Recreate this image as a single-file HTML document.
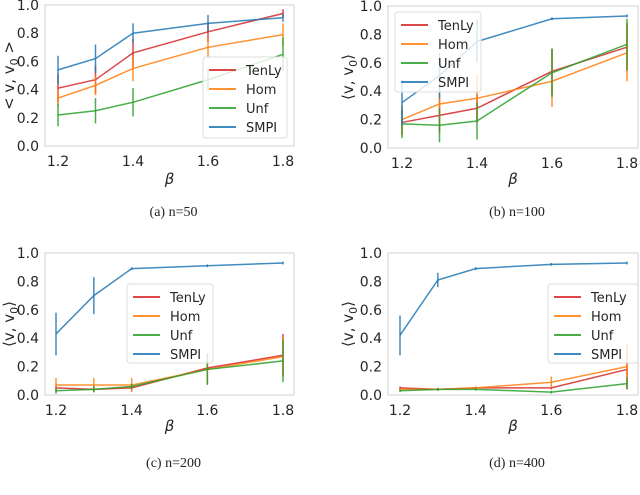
<!DOCTYPE html>
<html><head><meta charset="utf-8">
<style>
html,body{margin:0;padding:0;background:#fff;}
svg{display:block;font-family:"DejaVu Sans","Liberation Sans",sans-serif;}
.tick{font-size:14px;fill:#262626;}
.cap{font-family:"Liberation Serif",serif;font-size:14px;fill:#222;}
</style></head>
<body>
<svg id="fig" width="640" height="495" viewBox="0 0 640 495" xmlns="http://www.w3.org/2000/svg"></svg>
<script>
const betas=[1.2,1.3,1.4,1.6,1.8];
const seriesNames=["TenLy","Hom","Unf","SMPI"];
const colors=["#d62728","#ff7f0e","#2ca02c","#1f77b4"];
const yTicks=[0.0,0.2,0.4,0.6,0.8,1.0];
const xTicks=[1.2,1.4,1.6,1.8];
// panel a n=50
const aTenLy=[0.41,0.47,0.66,0.81,0.94], aTenLyErr=[0.1,0.1,0.1,0.07,0.03];
const aHom=[0.34,0.43,0.55,0.70,0.79], aHomErr=[0.06,0.07,0.09,0.07,0.08];
const aUnf=[0.22,0.25,0.31,0.47,0.65], aUnfErr=[0.08,0.09,0.1,0.08,0.12];
const aSMPI=[0.54,0.62,0.80,0.87,0.91], aSMPIErr=[0.1,0.1,0.07,0.06,0.03];
// panel b n=100
const bTenLy=[0.18,0.23,0.28,0.54,0.71], bTenLyErr=[0.09,0.12,0.1,0.16,0.17];
const bHom=[0.20,0.31,0.35,0.47,0.67], bHomErr=[0.1,0.13,0.17,0.18,0.2];
const bUnf=[0.17,0.16,0.19,0.53,0.73], bUnfErr=[0.1,0.12,0.13,0.17,0.18];
const bSMPI=[0.32,0.51,0.75,0.91,0.93], bSMPIErr=[0.16,0.16,0.15,0.01,0.01];
// panel c n=200
const cTenLy=[0.05,0.04,0.05,0.19,0.28], cTenLyErr=[0.02,0.02,0.02,0.1,0.15];
const cHom=[0.07,0.07,0.07,0.18,0.27], cHomErr=[0.05,0.05,0.05,0.1,0.14];
const cUnf=[0.03,0.04,0.06,0.18,0.24], cUnfErr=[0.02,0.02,0.02,0.11,0.15];
const cSMPI=[0.43,0.70,0.89,0.91,0.93], cSMPIErr=[0.15,0.13,0.01,0.01,0.01];
// panel d n=400
const dTenLy=[0.05,0.04,0.05,0.05,0.18], dTenLyErr=[0.01,0.01,0.01,0.01,0.14];
const dHom=[0.04,0.04,0.05,0.09,0.20], dHomErr=[0.01,0.01,0.01,0.04,0.16];
const dUnf=[0.03,0.04,0.04,0.02,0.08], dUnfErr=[0.01,0.01,0.01,0.01,0.04];
const dSMPI=[0.42,0.81,0.89,0.92,0.93], dSMPIErr=[0.14,0.05,0.01,0.01,0.01];

const NS="http://www.w3.org/2000/svg";
const svg=document.getElementById('fig');
function mk(tag,attrs,parent,text){const e=document.createElementNS(NS,tag);for(const k in attrs)e.setAttribute(k,attrs[k]);if(text!==undefined)e.textContent=text;(parent||svg).appendChild(e);return e;}

const panels=[
 {id:'a',L:45,R:294,T:5,B:146,x0:58,x1:283,ylab:'< v, v',ylabEnd:' >',ylx:14,cap:'(a) n=50',capY:216,betaY:184,
  series:[[aTenLy,aTenLyErr],[aHom,aHomErr],[aUnf,aUnfErr],[aSMPI,aSMPIErr]],leg:[203,57,84,81]},
 {id:'b',L:388,R:638,T:6,B:148,x0:402,x1:627,ylab:'⟨v, v',ylabEnd:'⟩',ylx:353,cap:'(b) n=100',capY:216,betaY:184,
  series:[[bTenLy,bTenLyErr],[bHom,bHomErr],[bUnf,bUnfErr],[bSMPI,bSMPIErr]],leg:[395,12,86,80]},
 {id:'c',L:45,R:294,T:253,B:395,x0:56,x1:283,ylab:'⟨v, v',ylabEnd:'⟩',ylx:14,cap:'(c) n=200',capY:467,betaY:431,
  series:[[cTenLy,cTenLyErr],[cHom,cHomErr],[cUnf,cUnfErr],[cSMPI,cSMPIErr]],leg:[127,284,86,79]},
 {id:'d',L:388,R:638,T:253,B:395,x0:400,x1:627,ylab:'⟨v, v',ylabEnd:'⟩',ylx:353,cap:'(d) n=400',capY:467,betaY:431,
  series:[[dTenLy,dTenLyErr],[dHom,dHomErr],[dUnf,dUnfErr],[dSMPI,dSMPIErr]],leg:[548,284,90,79]}
];

panels.forEach(p=>{
  const g=mk('g',{});
  
  
  const xs=v=>p.x0+(v-1.2)/(0.6)*(p.x1-p.x0);
  const ys=v=>p.B-v*(p.B-p.T);
  const frame=mk('rect',{x:p.L,y:p.T,width:p.R-p.L,height:p.B-p.T,fill:'#fff',stroke:'#e0e0e0','stroke-width':1.5},g);
  
  
  yTicks.forEach(t=>{
    const tx=mk('text',{x:p.L-6,y:ys(t)+5,'text-anchor':'end',class:'tick'},g,t.toFixed(1));
    
    
  });
  xTicks.forEach(t=>{
    const tx=mk('text',{x:xs(t),y:p.B+20,'text-anchor':'middle',class:'tick'},g,t.toFixed(1));
    
    
  });
  const bx=mk('text',{x:(p.L+p.R)/2,y:p.betaY,'text-anchor':'middle','font-size':'15','font-style':'italic',fill:'#262626'},g,'β');
  
  
  const yl=mk('text',{x:0,y:0,'text-anchor':'middle','font-size':'15',fill:'#262626',transform:`translate(${p.ylx},${(p.T+p.B)/2}) rotate(-90)`},g);
  
  
  mk('tspan',{},yl,p.ylab);
  mk('tspan',{'font-size':'11',dy:'4'},yl,'0');
  mk('tspan',{dy:'-4'},yl,p.ylabEnd);
  p.series.forEach((s,i)=>{
    const [vals,errs]=s;
    const pts=betas.map((b,j)=>xs(b)+','+ys(vals[j])).join(' ');
    const ln=mk('polyline',{points:pts,fill:'none',stroke:colors[i],'stroke-width':1.5,'stroke-opacity':0.85},g);
    
    
    betas.forEach((b,j)=>{
      const eb=mk('line',{x1:xs(b),x2:xs(b),y1:ys(vals[j]-errs[j]),y2:ys(vals[j]+errs[j]),stroke:colors[i],'stroke-width':1.5,'stroke-opacity':0.85},g);
      
      
    });
  });
  const [lx,ly,lw,lh]=p.leg;
  const lg=mk('g',{},g);
  
  
  mk('rect',{x:lx,y:ly,width:lw,height:lh,rx:3,fill:'#fff','fill-opacity':0.8,stroke:'#ddd'},lg);
  seriesNames.forEach((n,i)=>{
    const yy=ly+13+i*19;
    const e=mk('g',{},lg);
    
    
    mk('line',{x1:lx+6,x2:lx+33,y1:yy,y2:yy,stroke:colors[i],'stroke-width':2,'stroke-opacity':0.85},e);
    mk('text',{x:lx+43,y:yy+5,'font-size':'13',fill:'#262626'},e,n);
  });
  const cp=mk('text',{x:(p.L+p.R)/2+4,y:p.capY,'text-anchor':'middle',class:'cap'},svg,p.cap);
  
  
  svg.appendChild(g);
});
</script>
</body></html>
